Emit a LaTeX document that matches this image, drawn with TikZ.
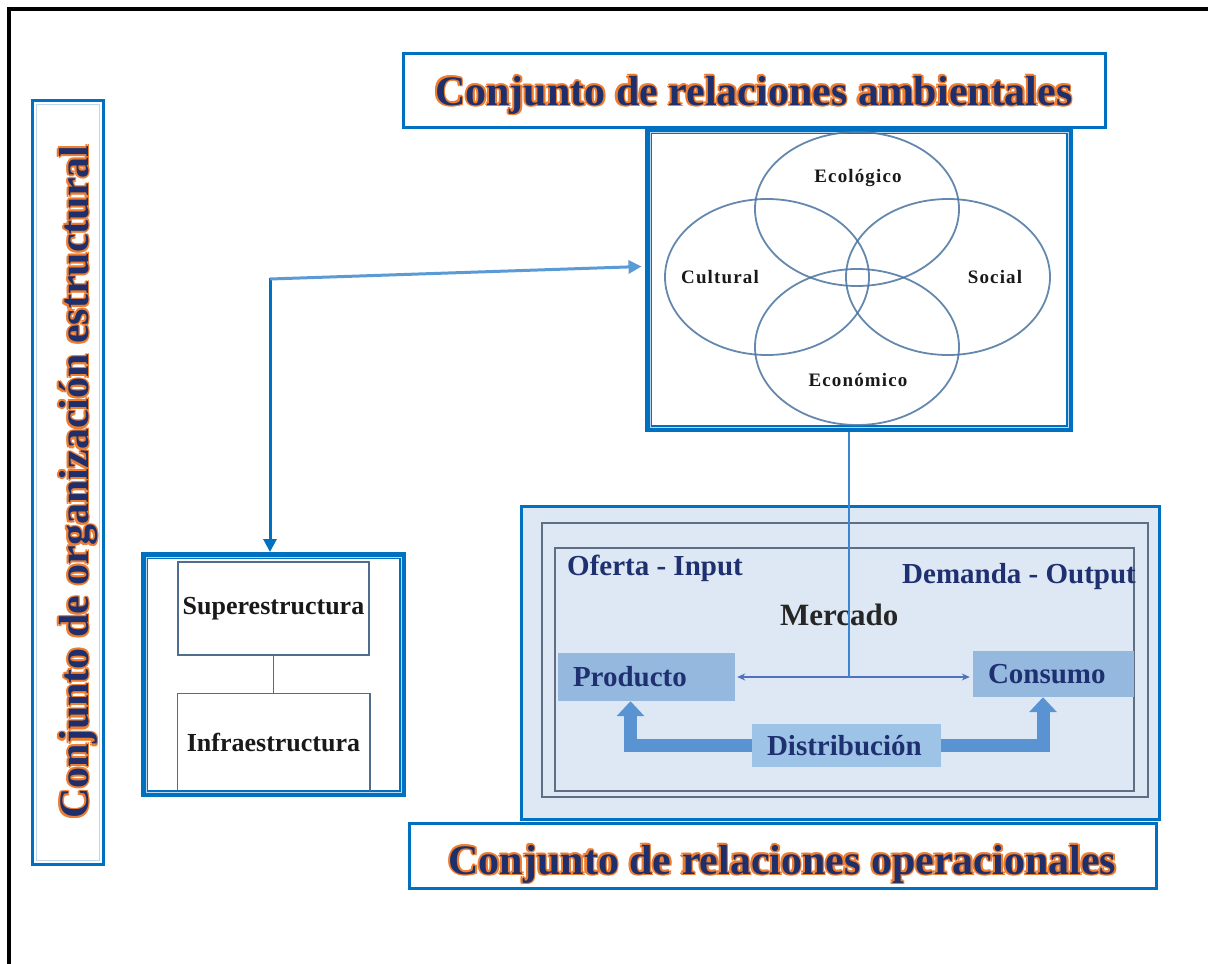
\documentclass[tikz,border=0pt]{standalone}
\usepackage{fontspec}
\setmainfont{Liberation Serif}
\newfontfamily\venfont[LetterSpace=6]{Liberation Serif}
\usetikzlibrary{arrows.meta,calc}
\definecolor{bordB}{HTML}{0070C0}
\definecolor{orgT}{HTML}{ED7D31}
\definecolor{navyT}{HTML}{1F2F6B}
\definecolor{lineB}{HTML}{5B9BD5}
\definecolor{vennC}{HTML}{4A74A0}
\definecolor{merBg}{HTML}{DDE8F4}
\definecolor{boxM}{HTML}{95B8DF}
\definecolor{boxD}{HTML}{9DC3E6}
\definecolor{thickA}{HTML}{5A93D2}
\definecolor{grayR}{HTML}{5E6E84}
\definecolor{navyM}{HTML}{1F3070}
\definecolor{structC}{HTML}{4F6E8F}
\definecolor{paleB}{HTML}{BDD7EE}
\definecolor{midB}{HTML}{3C85D0}
\definecolor{dblA}{HTML}{4F72C0}
\newcommand\glowtext[1]{\leavevmode
 \rlap{\color{orgT}\hspace*{-2.2pt}#1}%
 \rlap{\color{orgT}\hspace*{-1.6pt}\raisebox{1.5pt}{#1}}%
 \rlap{\color{orgT}\hspace*{-1.6pt}\raisebox{-1.5pt}{#1}}%
 \rlap{\color{orgT}\raisebox{1.8pt}{#1}}%
 \rlap{\color{orgT}\raisebox{-1.8pt}{#1}}%
 \rlap{\color{orgT}\hspace*{1.4pt}\raisebox{1pt}{#1}}%
 \rlap{\color{orgT}\hspace*{1.4pt}\raisebox{-1pt}{#1}}%
 {\color{navyT}#1}}
\begin{document}
\begin{tikzpicture}[x=1pt,y=-1pt,
  titlebox/.style={draw=bordB, line width=3pt, fill=white, inner sep=0pt,
    font=\bfseries\fontsize{42}{46}\selectfont},
  thickframe/.style={draw=bordB, line width=7pt, fill=white, inner sep=0pt},
  innerrect/.style={draw=structC, line width=1.5pt, inner sep=0pt,
    font=\bfseries\fontsize{26}{30}\selectfont, text=black!90},
  vennline/.style={draw=vennC, line width=1.8pt, draw opacity=0.85},
  vennlabel/.style={font=\venfont\bfseries\fontsize{19}{22}\selectfont, text=black!90, inner sep=0pt},
  mertext/.style={font=\bfseries\fontsize{29}{33}\selectfont, text=navyM, inner sep=0pt, anchor=base west},
  merbox/.style={inner ysep=0pt, inner xsep=15pt, font=\bfseries\fontsize{29}{33}\selectfont, text=navyM},
  bigarrow/.style={draw=thickA, line width=13pt, line join=miter, -{Triangle[width=27pt,length=15pt]}},
  linkarrow/.style={line width=3pt, -{Triangle[width=13pt,length=13pt]}}
]
\useasboundingbox (0,0) rectangle (1208,964);
\fill[white] (0,0) rectangle (1208,964);
% outer frame
\draw[line width=4pt, black] (8.5,970) -- (8.5,8.5) -- (1215,8.5);

% left vertical title
\node[titlebox, rotate=90, minimum width=764pt, minimum height=71pt] (tleft) at (67.5,482)
  {\raisebox{-20.5pt}[0pt][0pt]{\glowtext{Conjunto de organización estructural}}};
\draw[paleB, line width=1pt] (36,104) rectangle (99,860);

% top title
\node[titlebox, minimum width=702pt, minimum height=74pt] (ttop) at (754,90)
  {\raisebox{-15pt}[0pt][0pt]{\glowtext{Conjunto de relaciones ambientales}}};

% Venn box
\node[thickframe, minimum width=421pt, minimum height=298pt] (vennbox) at (859,279.5) {};
\draw[paleB, line width=1pt] ($(vennbox.north west)+(5,5)$) rectangle ($(vennbox.south east)+(-5,-5)$);
\draw[vennline] (857,209) ellipse [x radius=102pt, y radius=77pt];
\draw[vennline] (767,277) ellipse [x radius=102pt, y radius=78pt];
\draw[vennline] (948,277) ellipse [x radius=102pt, y radius=78pt];
\draw[vennline] (857,347) ellipse [x radius=102pt, y radius=78pt];
\node[vennlabel] (eco) at (858,178) {Ecológico};
\node[vennlabel] (cul) at (720,277) {Cultural};
\node[vennlabel] (soc) at (995,277) {Social};
\node[vennlabel] (econ) at (858,380) {Económico};

% structure box
\node[thickframe, minimum width=258pt, minimum height=238pt] (strucbox) at (273.5,674.5) {};
\draw[paleB, line width=1pt] ($(strucbox.north west)+(5,5)$) rectangle ($(strucbox.south east)+(-5,-5)$);
\node[innerrect, minimum width=191pt, minimum height=93pt] (super) at (273.5,608.5) {Superestructura};
\node[innerrect, draw=none, minimum width=191pt, minimum height=96pt] (infra) at (273.5,742) {Infraestructura};
\draw[structC, line width=1.5pt] (infra.south west) -- (infra.north west) -- (infra.north east) -- (infra.south east);
\draw[structC, line width=1.5pt] (super.south) -- (infra.north);

% connector from structure to venn
\coordinate (corner) at (270,279);
\draw[linkarrow, bordB] ([yshift=1.5pt]corner) -- (corner |- strucbox.north);
\draw[linkarrow, lineB] (corner) -- ([yshift=13pt,xshift=-3.5pt]vennbox.west);

% Mercado box
\node[draw=bordB, line width=3pt, fill=merBg, minimum width=638pt, minimum height=313pt, inner sep=0pt] (merc) at (840.5,663) {};
\draw[grayR, line width=1.5pt] (542,523) rectangle (1148,797);
\draw[grayR, line width=1.5pt] (555,548) rectangle (1134,791);
\node[mertext] (oferta) at (567,575) {Oferta - Input};
\node[mertext] (demanda) at (902,583) {Demanda - Output};
\node[mertext, text=black!85, font=\bfseries\fontsize{31}{35}\selectfont] (mercado) at (780,625) {Mercado};
\node[merbox, fill=boxM, minimum height=48pt] (producto) at (646.5,677) {\makebox[147pt][l]{Producto}};
\node[merbox, fill=boxM, minimum height=46pt] (consumo) at (1053.5,674) {\makebox[131pt][l]{Consumo}};
\node[merbox, fill=boxD, minimum height=43pt] (distrib) at (846.5,745.5) {\makebox[159pt][l]{Distribución}};
\draw[bigarrow] (distrib.west) -| ([xshift=-16pt]producto.south);
\draw[bigarrow] (distrib.east) -| ([xshift=-10.5pt]consumo.south);
\draw[dblA, line width=1.5pt, {Stealth[length=8pt,width=7pt]}-{Stealth[length=8pt,width=7pt]}]
  ([xshift=2pt]producto.east) -- ([xshift=-3pt]producto.east -| consumo.west);
\draw[midB, line width=1.6pt] ([xshift=-10pt]vennbox.south) -- ([xshift=-10pt]vennbox.south |- producto.east);

% bottom title
\node[titlebox, minimum width=747pt, minimum height=65pt] (tbot) at (782.5,855.5)
  {\raisebox{-18.5pt}[0pt][0pt]{\glowtext{Conjunto de relaciones operacionales}}};
\end{tikzpicture}
\end{document}
